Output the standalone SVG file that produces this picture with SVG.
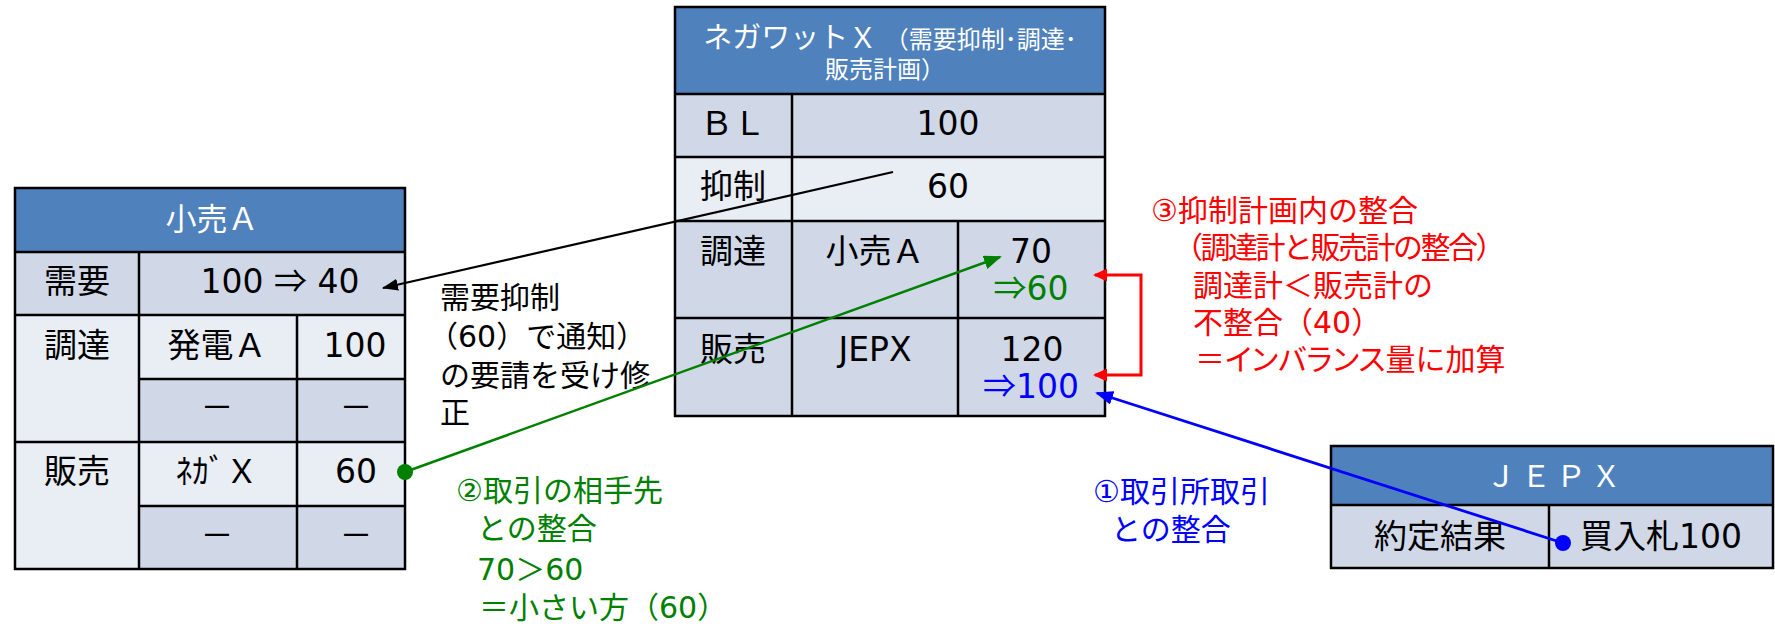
<svg xmlns="http://www.w3.org/2000/svg" width="1775" height="629" viewBox="0 0 1775 629">
<defs>
<style>
text { font-family: "DejaVu Sans", "Noto Sans CJK JP", sans-serif; }
.c { font-size: 33px; fill: #000; text-anchor: middle; }
.h { fill: #fff; text-anchor: middle; }
.lbl { font-size: 30px; }
.ar { font-family: "Noto Sans CJK JP", sans-serif; }
.pa { font-feature-settings: "palt"; }
.hd { fill: #4F81BD; }
.dk { fill: #D0D8E8; }
.lt { fill: #E9EDF4; }
.grid { stroke: #000; stroke-width: 2.5; fill: none; }
.gr { fill: #008000; }
.bl { fill: #0000FF; }
.rd { fill: #FF0000; }
</style>
<marker id="mk" viewBox="0 0 16 12" refX="15" refY="6" markerWidth="16" markerHeight="12" markerUnits="userSpaceOnUse" orient="auto-start-reverse"><path d="M0,0 L16,6 L0,12 z" fill="#000"/></marker>
<marker id="mg" viewBox="0 0 18 14" refX="16" refY="7" markerWidth="18" markerHeight="14" markerUnits="userSpaceOnUse" orient="auto-start-reverse"><path d="M0,0 L18,7 L0,14 z" fill="#008000"/></marker>
<marker id="mb" viewBox="0 0 18 14" refX="16" refY="7" markerWidth="18" markerHeight="14" markerUnits="userSpaceOnUse" orient="auto-start-reverse"><path d="M0,0 L18,7 L0,14 z" fill="#0000FF"/></marker>
<marker id="mr" viewBox="0 0 14 13" refX="12" refY="6.5" markerWidth="14" markerHeight="13" markerUnits="userSpaceOnUse" orient="auto-start-reverse"><path d="M0,0 L14,6.5 L0,13 z" fill="#FF0000"/></marker>
</defs>
<rect x="0" y="0" width="1775" height="629" fill="#fff"/>

<g id="kouri-a">
<rect class="hd" x="15" y="188" width="390" height="64"/>
<rect class="dk" x="15" y="252" width="390" height="63"/>
<rect class="lt" x="15" y="315" width="124" height="127"/>
<rect class="lt" x="139" y="315" width="266" height="64"/>
<rect class="dk" x="139" y="379" width="266" height="63"/>
<rect class="lt" x="15" y="442" width="124" height="127"/>
<rect class="lt" x="139" y="442" width="266" height="64"/>
<rect class="dk" x="139" y="506" width="266" height="63"/>
<path class="grid" d="M15,188 H405 V569 H15 Z M15,252 H405 M15,315 H405 M139,379 H405 M15,442 H405 M139,506 H405 M139,252 V569 M297,315 V569"/>
<text class="h" x="212" y="230" font-size="31">小売Ａ</text>
<text class="c" x="77" y="293">需要</text>
<text class="c" x="280" y="293">100 <tspan class="ar">⇒</tspan> 40</text>
<text class="c" x="77" y="357">調達</text>
<text class="c" x="217" y="357">発電Ａ</text>
<text class="c" x="355" y="357">100</text>
<text class="c" x="217" y="419">－</text>
<text class="c" x="356" y="419">－</text>
<text class="c" x="77" y="483">販売</text>
<text class="c" x="217" y="483">ﾈｶﾞＸ</text>
<text class="c" x="356" y="483">60</text>
<text class="c" x="217" y="547">－</text>
<text class="c" x="356" y="547">－</text>
</g>

<g id="negawatt-x">
<rect class="hd" x="675" y="7" width="430" height="87"/>
<rect class="dk" x="675" y="94" width="430" height="63"/>
<rect class="lt" x="675" y="157" width="430" height="64"/>
<rect class="dk" x="675" y="221" width="430" height="97"/>
<rect class="dk" x="675" y="318" width="430" height="98"/>
<path class="grid" d="M675,7 H1105 V416 H675 Z M675,94 H1105 M675,157 H1105 M675,221 H1105 M675,318 H1105 M792,94 V416 M958,221 V416"/>
<text class="h" x="890" y="48"><tspan font-size="29">ネガワットＸ</tspan><tspan font-size="24"> （需要抑制･調達･</tspan></text>
<text class="h" x="885" y="78" font-size="24">販売計画）</text>
<text class="c" x="733" y="135">ＢＬ</text>
<text class="c" x="948" y="135">100</text>
<text class="c" x="733" y="198">抑制</text>
<text class="c" x="948" y="198">60</text>
<text class="c" x="733" y="263">調達</text>
<text class="c" x="875" y="263">小売Ａ</text>
<text class="c" x="1031" y="263">70</text>
<text class="c gr" x="1031" y="300"><tspan class="ar">⇒</tspan>60</text>
<text class="c" x="733" y="361">販売</text>
<text class="c" x="875" y="361">JEPX</text>
<text class="c" x="1032" y="361">120</text>
<text class="c bl" x="1031" y="398"><tspan class="ar">⇒</tspan>100</text>
</g>

<g id="jepx">
<rect class="hd" x="1331" y="446" width="442" height="59"/>
<rect class="dk" x="1331" y="505" width="442" height="63"/>
<path class="grid" d="M1331,446 H1773 V568 H1331 Z M1331,505 H1773 M1549,505 V568"/>
<text class="h" x="1556" y="487" font-size="30" letter-spacing="5">ＪＥＰＸ</text>
<text class="c" x="1440" y="548">約定結果</text>
<text class="c" x="1661" y="548">買入札100</text>
</g>

<g id="labels">
<text class="lbl" fill="#000"><tspan x="440" y="308">需要抑制</tspan><tspan x="428" y="347">（60）で通知）</tspan><tspan x="440" y="386">の要請を受け修</tspan><tspan x="440" y="423">正</tspan></text>
<text class="lbl gr"><tspan x="456" y="501">②取引の相手先</tspan><tspan x="477" y="539">との整合</tspan><tspan x="477" y="580">70＞60</tspan><tspan x="479" y="618">＝小さい方（60）</tspan></text>
<text class="lbl bl"><tspan x="1093" y="502">①取引所取引</tspan><tspan x="1111" y="540">との整合</tspan></text>
<text class="lbl rd"><tspan x="1151" y="221">③抑制計画内の整合</tspan><tspan x="1173" y="258" letter-spacing="-2.5">（調達計と販売計の整合）</tspan><tspan x="1193" y="296">調達計＜販売計の</tspan><tspan x="1193" y="333">不整合（40）</tspan><tspan x="1195" y="370">＝<tspan class="pa">インバランス</tspan>量に加算</tspan></text>
</g>

<g id="connectors">
<line x1="893" y1="172" x2="383" y2="288" stroke="#000" stroke-width="2.2" marker-end="url(#mk)"/>
<line x1="405" y1="472" x2="1000" y2="257" stroke="#008000" stroke-width="2.5" marker-end="url(#mg)"/>
<circle cx="405" cy="472" r="8" fill="#008000"/>
<line x1="1563" y1="543" x2="1097" y2="393" stroke="#0000FF" stroke-width="2.8" marker-end="url(#mb)"/>
<circle cx="1563" cy="543" r="8" fill="#0000FF"/>
<path d="M1095,275 H1141 V375 H1095" fill="none" stroke="#FF0000" stroke-width="3" marker-start="url(#mr)" marker-end="url(#mr)"/>
</g>
</svg>
